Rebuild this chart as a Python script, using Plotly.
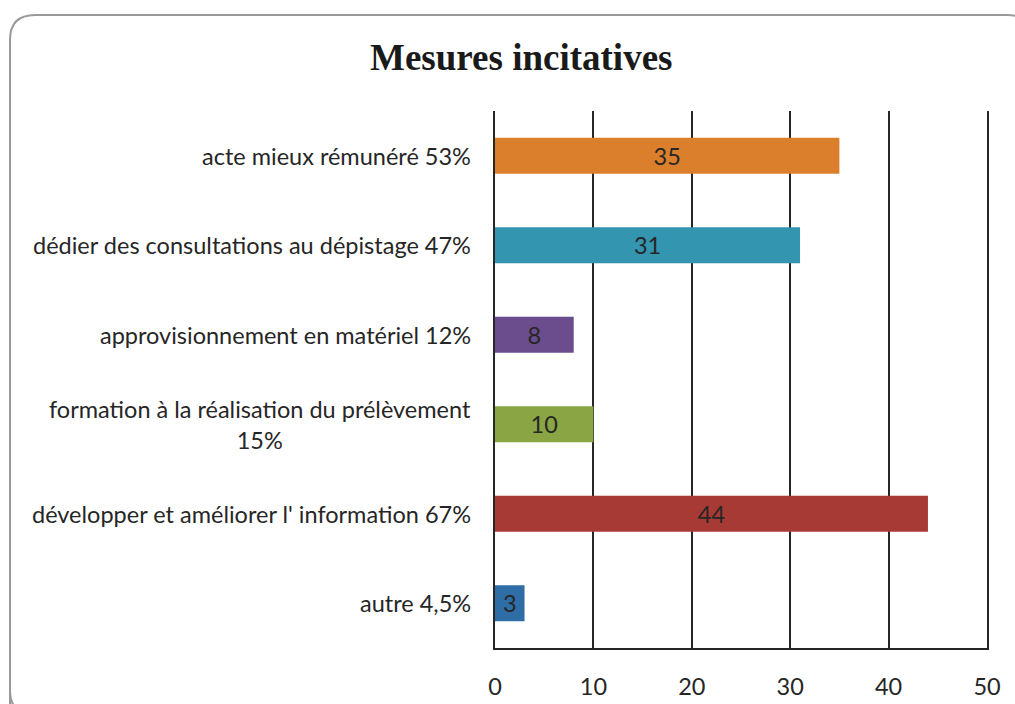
import plotly.graph_objects as go

# Survey answers: incentive measures
categories = [
    "acte mieux rémunéré 53%",
    "dédier des consultations au dépistage 47%",
    "approvisionnement en matériel 12%",
    "formation à la réalisation du prélèvement<br>15%",
    "développer et améliorer l' information 67%",
    "autre 4,5%",
]
counts = [35, 31, 8, 10, 44, 3]
bar_colors = ["#DC7F2C", "#3395B0", "#6B4D8E", "#8AA644", "#A83A36", "#2F6DA6"]
x_ticks = [0, 10, 20, 30, 40, 50]

W, H = 1015, 704
M_L, M_R, M_T, M_B = 495, 28, 111, 56
PW, PH = W - M_L - M_R, H - M_T - M_B

FONT = "Lato, 'Open Sans', sans-serif"
FS = 23.5
LINE = "#262626"


def px(x, y):
    """Pixel position -> paper coordinates."""
    return (x - M_L) / PW, (H - M_B - y) / PH


fig = go.Figure(
    go.Bar(
        x=counts,
        y=categories,
        orientation="h",
        width=0.4,
        marker=dict(color=bar_colors, line=dict(width=0)),
        text=[str(v) for v in counts],
        textposition="inside",
        insidetextanchor="middle",
        constraintext="none",
        textfont=dict(family=FONT, size=FS, color="#262626"),
        cliponaxis=False,
        hoverinfo="skip",
    )
)

# Category labels, centred line by line and right-aligned against the axis
annotations = []
for cat in categories:
    annotations.append(
        dict(
            x=0, xref="paper", y=cat, yref="y",
            text=cat, showarrow=False,
            xanchor="right", yanchor="middle", align="center",
            xshift=-22,
            font=dict(family=FONT, size=FS, color="#262626"),
        )
    )

# Title
tx, ty = px(521, 58)
annotations.append(
    dict(
        x=tx, y=ty, xref="paper", yref="paper",
        text="<b>Mesures incitatives</b>", showarrow=False,
        xanchor="center", yanchor="middle",
        font=dict(family="'Liberation Serif', 'Times New Roman', serif", size=37, color="#1a1a1a"),
    )
)

# Rounded frame around the chart (partly running off the page)
pts = {
    "a": px(10, 720), "b": px(10, 40), "c": px(10, 15), "d": px(35, 15),
    "e": px(1007, 15), "f": px(1032, 15), "g": px(1032, 40),
}
path = (
    f"M {pts['a'][0]},{pts['a'][1]} L {pts['b'][0]},{pts['b'][1]} "
    f"Q {pts['c'][0]},{pts['c'][1]} {pts['d'][0]},{pts['d'][1]} "
    f"L {pts['e'][0]},{pts['e'][1]} "
    f"Q {pts['f'][0]},{pts['f'][1]} {pts['g'][0]},{pts['g'][1]}"
)
bl0, bl1, bl2 = px(10, 690), px(10, 715), px(35, 715)
path_bl = f"M {bl0[0]},{bl0[1]} Q {bl1[0]},{bl1[1]} {bl2[0]},{bl2[1]}"

shapes = [
    dict(type="path", path=path, xref="paper", yref="paper",
         line=dict(color="#9a9a9a", width=2), layer="below"),
    dict(type="path", path=path_bl, xref="paper", yref="paper",
         line=dict(color="#9a9a9a", width=2), layer="below"),
]

fig.update_layout(
    width=W, height=H,
    margin=dict(l=M_L, r=M_R, t=M_T, b=M_B, pad=0, autoexpand=False),
    paper_bgcolor="white", plot_bgcolor="white",
    showlegend=False,
    annotations=annotations,
    shapes=shapes,
    xaxis=dict(
        range=[0, 50], tickvals=x_ticks,
        showgrid=True, gridcolor=LINE, gridwidth=2,
        zeroline=False,
        showline=True, linecolor=LINE, linewidth=2,
        ticks="", ticklabelstandoff=17,
        tickfont=dict(family=FONT, size=FS, color="#262626"),
        automargin=False,
        fixedrange=True,
    ),
    yaxis=dict(
        categoryorder="array", categoryarray=categories[::-1],
        showticklabels=False, showgrid=False, zeroline=False,
        showline=True, mirror=True, linecolor=LINE, linewidth=2,
        ticks="", automargin=False, fixedrange=True,
    ),
)

fig.write_html("out.html")
